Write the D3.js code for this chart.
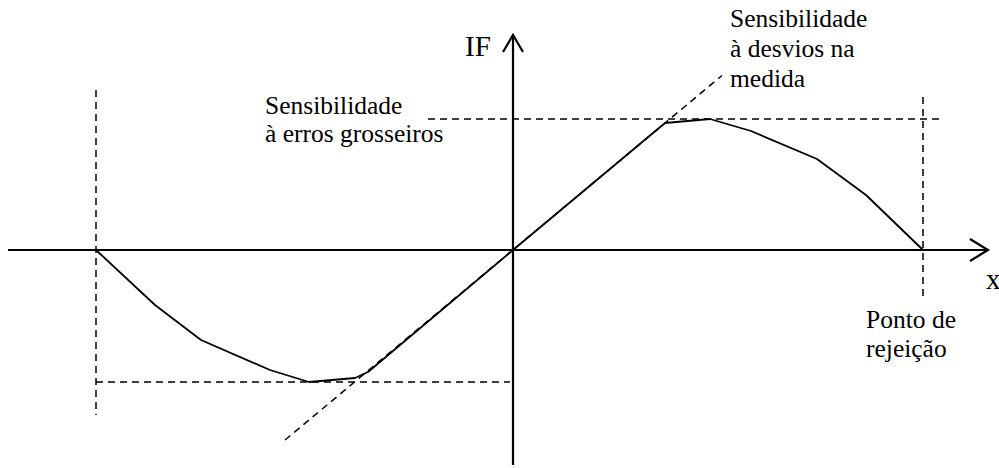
<!DOCTYPE html>
<html>
<head>
<meta charset="utf-8">
<script src="https://cdn.jsdelivr.net/npm/d3@7"></script>
<style>
  html, body { margin: 0; padding: 0; background: #fff; }
  svg { display: block; }
</style>
</head>
<body>
<div id="chart"></div>
<script>
// ---- data (arbitrary units, origin at 0,0) ----
const influenceX = [-4.17, -3.58, -3.12, -2.43, -2.04, -1.58, -1.45, 0, 1.40, 1.52, 1.97, 2.38, 3.04, 3.53, 4.10];
const influenceY = [0, -0.55, -0.90, -1.20, -1.32, -1.28, -1.22, 0, 1.17, 1.27, 1.31, 1.19, 0.91, 0.55, 0];
const tangentX = [-2.28, 2.09];
const tangentY = [-1.90, 1.745];
const grossErrorLevels = [1.31, -1.32];      // sensibilidade à erros grosseiros
const rejectionPoints = [-4.17, 4.10];       // pontos de rejeição
const axisLabels = ["IF", "x"];
const annotationGross = ["Sensibilidade", "à erros grosseiros"];
const annotationLocal = ["Sensibilidade", "à desvios na", "medida"];
const annotationReject = ["Ponto de", "rejeição"];

const W = 999, H = 468;
const FONT = '"Liberation Serif", "Times New Roman", Tinos, serif';
const svg = d3.select("#chart").append("svg").attr("width", W).attr("height", H);

const x = d3.scaleLinear().domain([-5.05, 4.86]).range([8, 999]);
const y = d3.scaleLinear().domain([2.15, -2.15]).range([35, 465]);

const dash = "7,5";
const line = d3.line().x(d => x(d[0])).y(d => y(d[1]));

// dashed reference lines
const g = svg.append("g").attr("stroke", "#000").attr("stroke-width", 1.5).attr("stroke-dasharray", dash).attr("fill", "none");
g.append("line")
  .attr("x1", x(-0.85)).attr("x2", x(4.29))
  .attr("y1", y(grossErrorLevels[0])).attr("y2", y(grossErrorLevels[0]));
g.append("line")
  .attr("x1", x(rejectionPoints[0])).attr("x2", x(-0.03))
  .attr("y1", y(grossErrorLevels[1])).attr("y2", y(grossErrorLevels[1]));
g.append("line")
  .attr("x1", x(rejectionPoints[0])).attr("x2", x(rejectionPoints[0]))
  .attr("y1", y(1.60)).attr("y2", y(-1.65));
g.append("line")
  .attr("x1", x(rejectionPoints[1])).attr("x2", x(rejectionPoints[1]))
  .attr("y1", y(1.53)).attr("y2", y(-0.50));
g.append("path")
  .datum(tangentX.map((v, i) => [v, tangentY[i]]))
  .attr("d", line);

// axes
const ax = svg.append("g").attr("stroke", "#000").attr("stroke-width", 2.2).attr("fill", "none");
ax.append("line").attr("x1", x(-5.05)).attr("x2", x(4.75)).attr("y1", y(0)).attr("y2", y(0));
ax.append("path").attr("d", `M${x(4.75) - 18},${y(0) - 11} L${x(4.75)},${y(0)} L${x(4.75) - 18},${y(0) + 11}`);
ax.append("line").attr("x1", x(0)).attr("x2", x(0)).attr("y1", y(-2.15)).attr("y2", y(2.15));
ax.append("path").attr("d", `M${x(0) - 10},${y(2.15) + 17} L${x(0)},${y(2.15)} L${x(0) + 10},${y(2.15) + 17}`);

// influence function curve
svg.append("path")
  .datum(influenceX.map((v, i) => [v, influenceY[i]]))
  .attr("d", line)
  .attr("fill", "none").attr("stroke", "#000").attr("stroke-width", 1.8)
  .attr("stroke-linejoin", "round");

// texts
const fs = 25.5;
function block(lines, x0, y0, lh) {
  const t = svg.append("text").attr("font-size", fs).style("font-family", FONT).attr("fill", "#000");
  lines.forEach((s, i) => t.append("tspan").attr("x", x0).attr("y", y0 + i * lh).text(s));
}
block(annotationGross, 265, 114, 28);
block(annotationLocal, 730, 27, 30);
block(annotationReject, 866, 328, 29);

svg.append("text").attr("x", 465).attr("y", 56).attr("font-size", 29).style("font-family", FONT).text(axisLabels[0]);
svg.append("text").attr("x", 986).attr("y", 289).attr("font-size", 29).style("font-family", FONT).text(axisLabels[1]);
</script>
</body>
</html>
